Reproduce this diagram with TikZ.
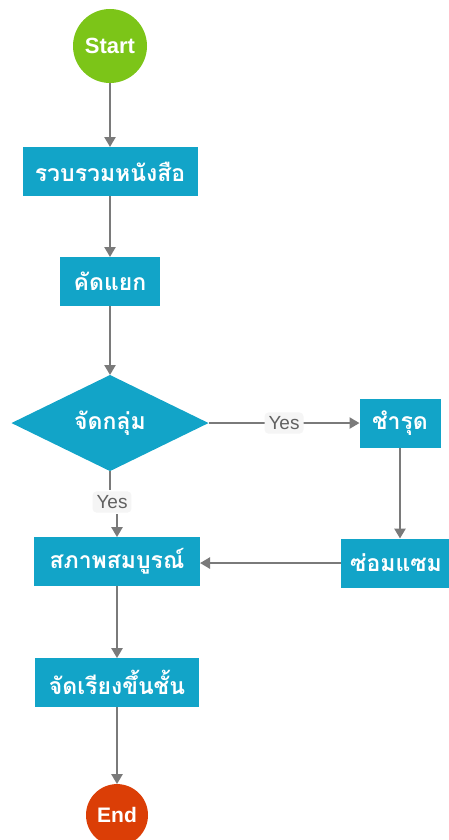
\documentclass[tikz,border=0pt]{standalone}
\usepackage{fontspec}
\setmainfont{Liberation Sans}
\newfontfamily\thaifont[Script=Thai]{Loma}
\usetikzlibrary{positioning, arrows.meta, shapes.geometric}

\definecolor{flowblue}{RGB}{18,164,200}
\definecolor{startgreen}{RGB}{124,197,24}
\definecolor{endred}{RGB}{219,62,6}
\definecolor{linegray}{RGB}{122,122,122}

\begin{document}
\begin{tikzpicture}[x = 1pt, y = 1pt, > = {Triangle[length=10pt, width=11pt]},
    line width = 2.8pt,
    term/.style = {circle, minimum size=74pt, inner sep=0pt, outer sep=0pt, text=white,
      font=\bfseries\fontsize{22}{24}\selectfont},
    box/.style = {rectangle, fill=flowblue, minimum height=49pt, inner xsep=4pt, outer sep=0pt,
      text=white, font=\thaifont\bfseries\fontsize{23}{25}\selectfont},
    check/.style = {diamond, fill=flowblue, minimum width=197pt, minimum height=96pt, inner sep=0pt,
      outer sep=0pt, text=white, font=\thaifont\bfseries\fontsize{23}{25}\selectfont},
    lbl/.style = {fill=gray!8, rounded corners=4pt, inner xsep=4pt, inner ysep=4pt, text=black!62,
      font=\fontsize{19}{21}\selectfont}]
    \useasboundingbox (0,0) rectangle (449,-840);

    \node[term, fill=startgreen] (start) at (110,-46) {Start};
    \node[box, minimum width=175pt] (collect) [below=64pt of start] {รวบรวมหนังสือ};
    \node[box, minimum width=100pt] (split) [below=61pt of collect] {คัดแยก};
    \node[check] (group) [below=69pt of split] {จัดกลุ่ม};
    \node[box, minimum width=81pt] (damaged) [right=151pt of group] {ชำรุด};
    \node[box, minimum width=110pt] (repair) [below=91pt of damaged, xshift=-4pt] {ซ่อมแซม};
    \node[box, minimum width=166pt] (intact) [below=66pt of group, xshift=7pt] {สภาพสมบูรณ์};
    \node[box, minimum width=164pt] (arrange) [below=72pt of intact] {จัดเรียงขึ้นชั้น};
    \node[term, minimum size=62pt, fill=endred, font=\bfseries\fontsize{21}{23}\selectfont]
      (end) [below=77pt of arrange] {End};
    \node[lbl] (yesdown) at (112,-502) {Yes};

    \path[->, every edge/.append style={draw=linegray}] (start) edge (collect)
    (collect) edge (split)
    (split) edge (group)
    (group) edge node[lbl] {Yes} (damaged)
    (group.south) edge[-] (group.south |- yesdown.north)
    (yesdown.south -| intact.north) edge (intact.north)
    (damaged.south) edge (damaged.south |- repair.north)
    (repair.west) edge (intact.east |- repair.west)
    (intact) edge (arrange)
    (arrange) edge (end);
  \end{tikzpicture}
\end{document}
